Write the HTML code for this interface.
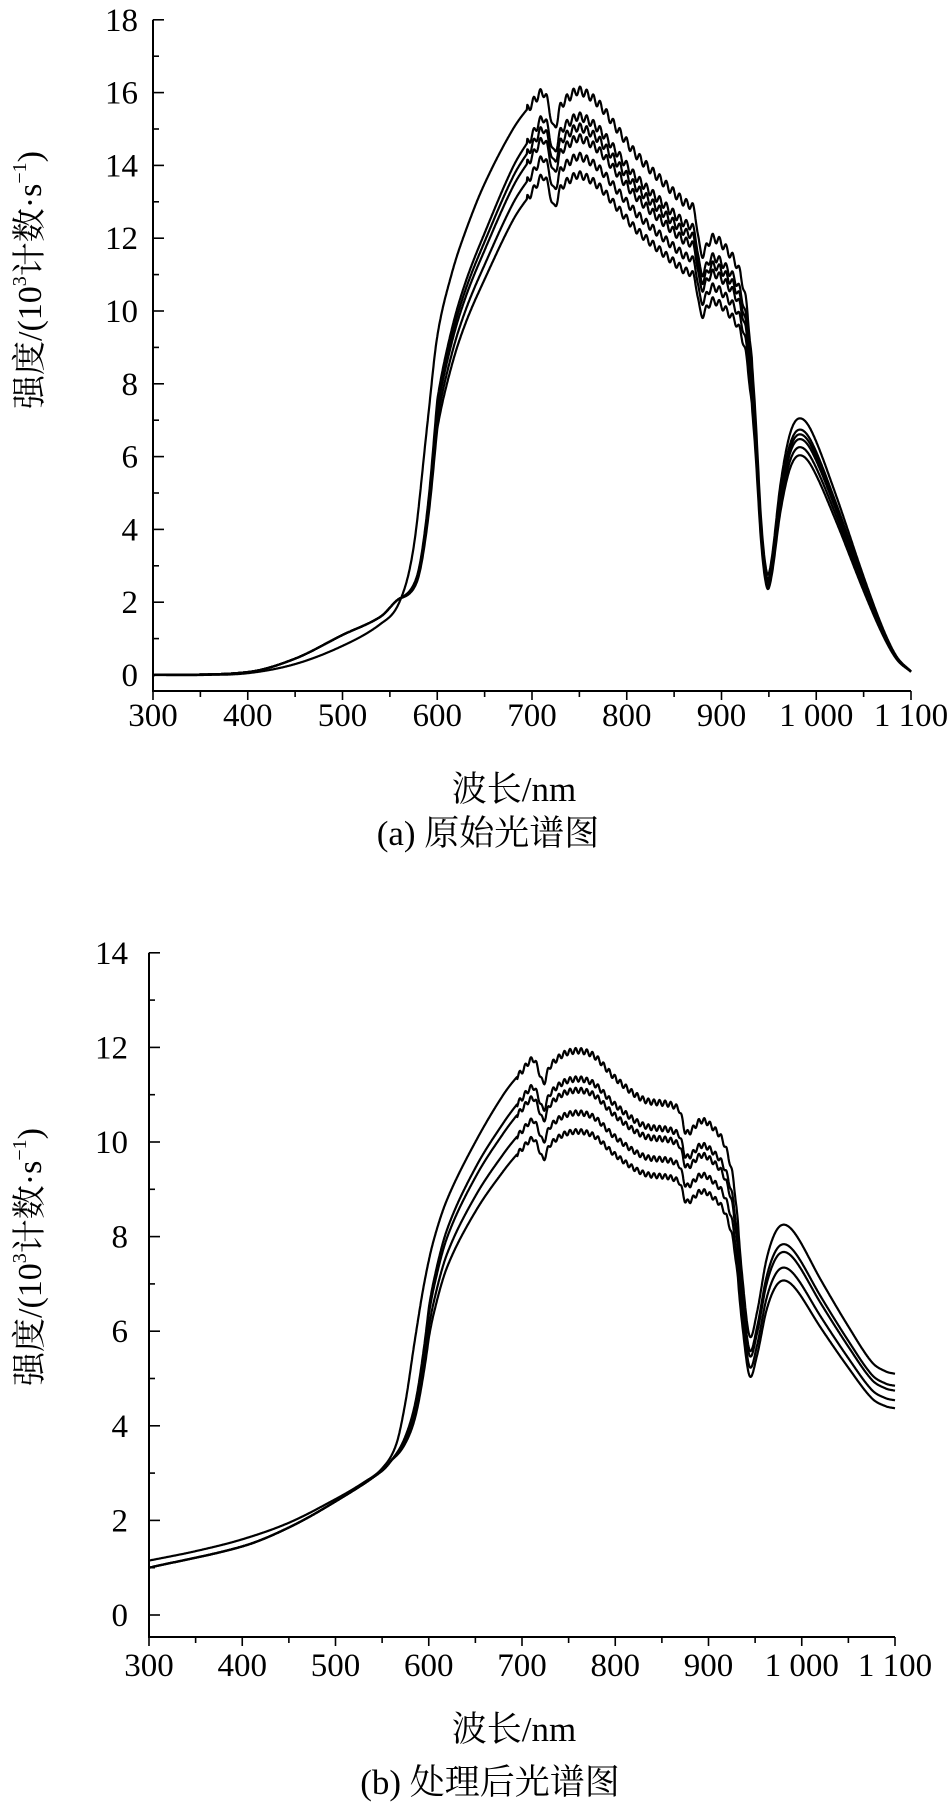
<!DOCTYPE html>
<html><head><meta charset="utf-8">
<style>
html,body{margin:0;padding:0;background:#fff;}
svg{display:block;}
text{font-family:"Liberation Serif","Noto Serif CJK SC","Noto Sans CJK SC",serif;fill:#000;}
</style></head>
<body>
<svg id="s" width="950" height="1808" viewBox="0 0 950 1808" xmlns="http://www.w3.org/2000/svg">
<g id="g"></g>
<text x="33" y="280" font-size="34" text-anchor="middle" dominant-baseline="middle" transform="rotate(-90 33 280)">强度/(10<tspan font-size="20" dy="-12">3</tspan><tspan dy="12">计数·s</tspan><tspan font-size="20" dy="-12">−1</tspan><tspan dy="12">)</tspan></text>
<text x="514" y="801" font-size="35" text-anchor="middle">波长/nm</text>
<text x="488" y="845" font-size="35" text-anchor="middle">(a) 原始光谱图</text>
<text x="33" y="1257" font-size="34" text-anchor="middle" dominant-baseline="middle" transform="rotate(-90 33 1257)">强度/(10<tspan font-size="20" dy="-12">3</tspan><tspan dy="12">计数·s</tspan><tspan font-size="20" dy="-12">−1</tspan><tspan dy="12">)</tspan></text>
<text x="514" y="1741" font-size="35" text-anchor="middle">波长/nm</text>
<text x="490" y="1794" font-size="35" text-anchor="middle">(b) 处理后光谱图</text>
</svg>
<script>
const NS="http://www.w3.org/2000/svg";
const g=document.getElementById('g');
function el(t,a,txt){const e=document.createElementNS(NS,t);for(const k in a)e.setAttribute(k,a[k]);if(txt!=null)e.textContent=txt;g.appendChild(e);return e;}
function interp(K,x){
  if(x<=K[0][0])return K[0][1];
  for(let i=0;i<K.length-1;i++){
    if(x<=K[i+1][0]){
      const p0=K[Math.max(i-1,0)],p1=K[i],p2=K[i+1],p3=K[Math.min(i+2,K.length-1)];
      const t=(x-p1[0])/(p2[0]-p1[0]);
      const h=p2[0]-p1[0];
      const m1=(p2[1]-p0[1])/(p2[0]-p0[0])*h, m2=(p3[1]-p1[1])/(p3[0]-p1[0])*h;
      const t2=t*t,t3=t2*t;
      return (2*t3-3*t2+1)*p1[1]+(t3-2*t2+t)*m1+(-2*t3+3*t2)*p2[1]+(t3-t2)*m2;
    }
  }
  return K[K.length-1][1];
}
function chart(o){
  const X=v=>o.x0+(v-300)/100*o.dx, Y=v=>o.y0-v*o.dy;
  el('line',{x1:o.x0,y1:Y(o.ymax),x2:o.x0,y2:o.ax+1,stroke:'#000','stroke-width':2});
  el('line',{x1:o.x0-1,y1:o.ax,x2:X(1100),y2:o.ax,stroke:'#000','stroke-width':2});
  for(let v=0;v<=o.ymax;v++){
    const major=v%2==0;
    el('line',{x1:o.x0,y1:Y(v),x2:o.x0+(major?11:6),y2:Y(v),stroke:'#000','stroke-width':1.6});
    if(major)el('text',{x:o.lx,y:Y(v)+11,'font-size':33,'text-anchor':'end'},String(v));
  }
  for(let w=300;w<=1100;w+=50){
    const major=w%100==0;
    el('line',{x1:X(w),y1:o.ax,x2:X(w),y2:o.ax+(major?9:6),stroke:'#000','stroke-width':1.6});
    if(major){let s=w>=1000?(w==1000?'1 000':'1 100'):String(w);
      el('text',{x:X(w),y:o.ty,'font-size':33,'text-anchor':'middle'},s);}
  }
  o.curves.forEach(c=>{
    let d='';
    for(let w=300;w<=1100;w+=0.5){
      let v;
      const hi=c.s*interp(c.T,w);
      if(c.L){
        const lo=interp(c.L,w);
        let t=Math.min(1,Math.max(0,(w-560)/40));
        v=(1-t)*lo+t*hi;
      } else v=hi;
      if(w>=695&&w<=932) v+=o.wa*c.s*Math.sin(w/o.wp*2*Math.PI);
      d+=(d?'L':'M')+X(w).toFixed(1)+' '+Y(v).toFixed(1);
    }
    el('path',{d:d,fill:'none',stroke:'#000','stroke-width':2.2,'stroke-linejoin':'round'});
  });
}
const A1=[[300,0],[350,0],[400,0.05],[450,0.3],[500,0.8],[540,1.4],[560,2.0],[575,3.5],[590,7],[600,9.3],[615,11],[630,12.2],[650,13.5],[680,15],[700,15.7],[712,16.0],[718,15.6],[723,15.0],[730,15.6],[740,15.9],[750,16.05],[770,15.7],[790,15.0],[810,14.3],[840,13.5],[860,13.0],[872,12.7],[878,11.6],[890,12.0],[905,11.7],[920,11.0],[928,9.8],[935,7.5],[942,4.2],[948,2.8],[953,3.2],[962,5.2],[972,6.6],[982,7.05],[995,6.7],[1020,5.0],[1050,2.7],[1070,1.3],[1085,0.5],[1100,0.1]];
const A2=A1.map(p=>[p[0],p[1]]).filter(p=>p[0]<570||p[0]>700);
A2.push([578,3.2],[590,5.6],[600,7.9],[615,9.9],[630,11.3],[650,12.7],[680,14.6],[700,15.5]);
A2.sort((a,b)=>a[0]-b[0]);
const AL=[[300,0],[400,0.08],[450,0.45],[500,1.1],[540,1.6],[560,2.1],[600,2.6]];
chart({x0:153,dx:94.75,y0:675,dy:36.4,ymax:18,ax:691,lx:138,ty:726,wa:0.12,wp:7,
  curves:[{T:A1,s:1},{T:A2,s:0.956,L:AL},{T:A2,s:0.9375,L:AL},{T:A2,s:0.919,L:AL},{T:A2,s:0.8875,L:AL},{T:A2,s:0.856,L:AL}]});
const B1=[[300,1.15],[350,1.35],[400,1.6],[450,1.95],[500,2.45],[530,2.8],[550,3.1],[565,3.6],[575,4.5],[585,5.8],[595,7.0],[605,7.9],[620,8.8],[650,10.0],[680,11.0],[700,11.5],[712,11.75],[718,11.5],[723,11.25],[730,11.6],[750,11.9],[775,11.85],[800,11.35],[830,10.9],[868,10.7],[876,10.2],[892,10.45],[905,10.3],[918,9.9],[928,9.0],[936,7.2],[944,5.9],[952,6.4],[962,7.5],[972,8.1],[982,8.25],[995,8.0],[1020,7.1],[1050,6.1],[1075,5.35],[1090,5.15],[1100,5.1]];
const B2=B1.filter(p=>p[0]<570||p[0]>680);
B2.push([575,4.2],[585,5.0],[595,6.2],[605,7.4],[620,8.6],[650,9.95],[680,10.95]);
B2.sort((a,b)=>a[0]-b[0]);
const BL=[[300,1.0],[400,1.45],[450,1.85],[500,2.4],[550,3.05],[565,3.4],[600,4.3]];
chart({x0:149,dx:93.25,y0:1615,dy:47.3,ymax:14,ax:1637,lx:128,ty:1676,wa:0.06,wp:6,
  curves:[{T:B1,s:1},{T:B2,s:0.95,L:BL},{T:B2,s:0.93,L:BL},{T:B2,s:0.89,L:BL},{T:B2,s:0.857,L:BL}]});
</script>
</body></html>
